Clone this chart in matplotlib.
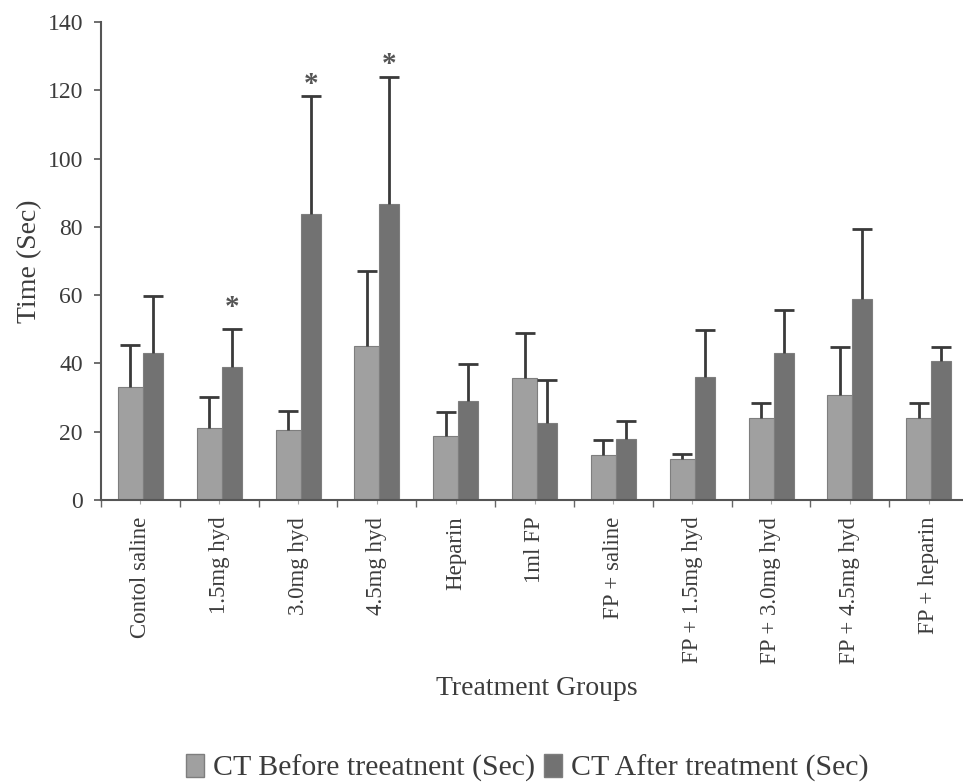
import matplotlib
matplotlib.use("Agg")
import matplotlib.pyplot as plt
import numpy as np
from matplotlib.patches import Patch

plt.rcParams["font.family"] = ["Liberation Serif", "DejaVu Serif"]

groups = ["Contol saline", "1.5mg hyd", "3.0mg hyd", "4.5mg hyd", "Heparin",
          "1ml FP", "FP + saline", "FP + 1.5mg hyd", "FP + 3.0mg hyd",
          "FP + 4.5mg hyd", "FP + heparin"]

ct_before = [33.0, 21.2, 20.5, 45.1, 18.8, 35.8, 13.2, 11.9, 23.9, 30.8, 23.9]
ct_before_err = [12.4, 9.0, 5.7, 22.0, 7.1, 13.0, 4.4, 1.6, 4.4, 13.9, 4.4]

ct_after = [43.1, 39.0, 83.8, 86.7, 28.9, 22.5, 18.0, 36.1, 43.0, 59.0, 40.7]
ct_after_err = [16.7, 11.0, 34.5, 37.3, 10.8, 12.6, 5.1, 13.7, 12.7, 20.5, 4.0]

# height (sec) of the significance asterisk per group, None where not significant
star_level = [None, 58.0, 123.3, 129.2, None, None, None, None, None, None, None]

label_before = "CT Before treeatnent (Sec)"
label_after = "CT After treatment (Sec)"

col_before = "#a0a0a0"
col_after = "#727272"
edge_col = "#7e7e7e"
err_col = "#3a3a3a"
text_col = "#3c3c3c"

fig = plt.figure(figsize=(9.63, 7.82), dpi=100)
ax = fig.add_axes([0.1049, 0.3606, 0.9003, 0.6113])

x = np.arange(len(groups))
w_before = 0.318
w_after = 0.254
split = 0.033
pos_before = x + split - w_before / 2
pos_after = x + split + w_after / 2

ax.bar(pos_before, ct_before, width=w_before, color=col_before,
       edgecolor=edge_col, linewidth=0.8, zorder=2)
ax.bar(pos_after, ct_after, width=w_after, color=col_after,
       edgecolor=edge_col, linewidth=0.8, zorder=2)

# upper-only error bars
err_kw = dict(fmt="none", ecolor=err_col, elinewidth=2.0, capsize=7,
              capthick=2.0, zorder=3)
for pos, mean, err in ((pos_before, ct_before, ct_before_err),
                       (pos_after, ct_after, ct_after_err)):
    _, caps, _ = ax.errorbar(pos, mean, yerr=[np.zeros(len(x)), err], **err_kw)
    caps[0].set_visible(False)

# the serif asterisk sits high in its box, so nudge it down onto the level
for pos, lvl in zip(pos_after, star_level):
    if lvl is not None:
        ax.annotate("*", (pos, lvl), xytext=(0, -4), textcoords="offset points",
                    ha="center", va="center", fontsize=21, fontweight="bold",
                    color="#555555")

ax.set_xlim(-0.5, len(groups) - 0.5)
ax.set_ylim(0, 140)
ax.set_yticks(np.arange(0, 141, 20))
ax.set_xticks(np.arange(len(groups) + 1) - 0.5)
ax.set_xticklabels([])
ax.set_xticks(x, minor=True)
ax.set_xticklabels(groups, minor=True, rotation=90, fontsize=16.5,
                   color=text_col, va="top", ha="center")

ax.tick_params(axis="y", direction="out", length=5, width=1.2, colors="#555555",
               labelsize=17, labelcolor=text_col, pad=8)
ax.tick_params(axis="x", which="major", direction="out", length=5, width=1.0,
               colors="#666666")
ax.tick_params(axis="x", which="minor", direction="out", length=3, width=0.8,
               colors="#aaaaaa", labelcolor=text_col, pad=9)

for side in ("top", "right"):
    ax.spines[side].set_visible(False)
for side in ("left", "bottom"):
    ax.spines[side].set_color("#555555")
    ax.spines[side].set_linewidth(1.5)

ax.set_ylabel("Time (Sec)", fontsize=20, color=text_col, labelpad=4)
fig.text(0.557, 0.12, "Treatment Groups", fontsize=20, color=text_col,
         ha="center", va="center")

handles = [Patch(facecolor=col_before, edgecolor=edge_col, label=label_before),
           Patch(facecolor=col_after, edgecolor=edge_col, label=label_after)]
fig.legend(handles=handles, loc="center", bbox_to_anchor=(0.548, 0.018),
           ncol=2, frameon=False, fontsize=21.5, handlelength=0.6,
           handleheight=0.8, handletextpad=0.3, columnspacing=0.3,
           labelcolor=text_col)

fig.savefig("out.png", dpi=100, facecolor="white")
